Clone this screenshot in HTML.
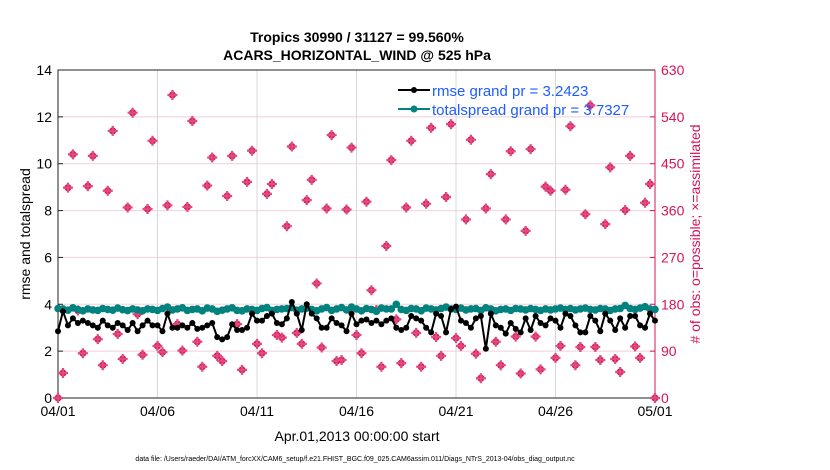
<!DOCTYPE html>
<html><head><meta charset="utf-8"><style>
body{margin:0;background:#fff;}
svg{display:block;font-family:"Liberation Sans",sans-serif;}
</style></head><body>
<svg id="c" width="830" height="470" viewBox="0 0 830 470">
<text x="357" y="42" text-anchor="middle" font-size="14" font-weight="bold">Tropics 30990 / 31127 = 99.560%</text>
<text x="357" y="60" text-anchor="middle" font-size="14" font-weight="bold">ACARS_HORIZONTAL_WIND @ 525 hPa</text>
<g id="grid"></g>
<g id="axes"></g>
<g id="marks"></g>
<text x="30" y="234" transform="rotate(-90 30 234)" text-anchor="middle" font-size="14">rmse and totalspread</text>
<text x="700" y="234" transform="rotate(-90 700 234)" text-anchor="middle" font-size="14" fill="#d4145a"># of obs: o=possible; ×=assimilated</text>
<text x="357" y="441" text-anchor="middle" font-size="14">Apr.01,2013 00:00:00 start</text>
<text x="355" y="461" text-anchor="middle" font-size="7">data file: /Users/raeder/DAI/ATM_forcXX/CAM6_setup/f.e21.FHIST_BGC.f09_025.CAM6assim.011/Diags_NTrS_2013-04/obs_diag_output.nc</text>
<g>
<line x1="398" y1="90" x2="430" y2="90" stroke="#000" stroke-width="2"/><circle cx="414" cy="90" r="3" fill="#000"/>
<text x="432" y="96" font-size="15" fill="#1f5cff">rmse grand pr = 3.2423</text>
<line x1="398" y1="109" x2="430" y2="109" stroke="#00827e" stroke-width="2"/><circle cx="414" cy="109" r="3.5" fill="#00827e"/>
<text x="432" y="115" font-size="15" fill="#1f5cff">totalspread grand pr = 3.7327</text>
</g>
</svg>
<script>
const xTicks=["04/01","04/06","04/11","04/16","04/21","04/26","05/01"];
const yTicks=[0,2,4,6,8,10,12,14];
const y2Ticks=[0,90,180,270,360,450,540,630];
const rmse=[2.85,3.7,3.1,3.4,3.2,3.3,3.2,3.1,3.0,3.3,3.1,3.0,3.2,3.1,2.9,3.2,2.85,3.1,3.3,3.1,3.1,2.85,3.6,3.0,3.0,3.1,3.0,3.2,2.95,3.0,3.1,3.2,2.6,2.5,2.6,3.15,2.9,2.9,3.0,3.6,3.3,3.3,3.5,3.6,3.2,3.15,3.4,4.1,3.6,2.9,4.0,3.6,3.4,3.0,3.0,3.4,3.2,3.1,2.85,3.6,3.15,3.3,3.35,3.2,3.3,3.15,3.3,3.4,3.0,2.9,3.0,3.5,3.4,3.3,3.0,2.8,3.6,3.5,2.8,3.8,3.9,3.3,3.2,3.0,3.4,3.5,2.1,3.6,3.1,3.0,2.75,3.2,2.95,2.8,3.4,2.9,3.5,3.2,3.1,3.4,3.3,3.0,3.6,3.5,3.1,2.8,2.8,3.5,3.3,2.85,3.6,3.3,2.9,3.4,3.0,3.5,3.5,3.1,3.0,3.6,3.3];
const spread=[3.82,3.8,3.75,3.85,3.78,3.72,3.8,3.76,3.74,3.82,3.78,3.75,3.84,3.77,3.73,3.8,3.76,3.72,3.8,3.78,3.74,3.82,3.88,3.76,3.8,3.85,3.74,3.78,3.8,3.72,3.84,3.8,3.7,3.75,3.8,3.85,3.74,3.72,3.8,3.78,3.74,3.82,3.86,3.74,3.78,3.8,3.82,3.86,3.75,3.8,3.84,3.78,3.72,3.8,3.86,3.74,3.8,3.86,3.76,3.88,3.8,3.72,3.82,3.78,3.7,3.84,3.8,3.8,4.0,3.78,3.74,3.82,3.8,3.72,3.84,3.8,3.76,3.82,3.88,3.8,3.78,3.84,3.76,3.8,3.82,3.74,3.85,3.8,3.72,3.78,3.8,3.74,3.82,3.8,3.76,3.82,3.78,3.74,3.8,3.76,3.8,3.84,3.78,3.82,3.76,3.8,3.84,3.78,3.76,3.82,3.8,3.74,3.8,3.82,3.95,3.82,3.78,3.84,3.9,3.8,3.78];
const obsDays=[0,0.25,0.5,0.75,1,1.25,1.5,1.75,2,2.25,2.5,2.75,3,3.25,3.5,3.75,4,4.25,4.5,4.75,5,5.25,5.5,5.75,6,6.25,6.5,6.75,7,7.25,7.5,7.75,8,8.25,8.5,8.75,9,9.25,9.5,9.75,10,10.25,10.5,10.75,11,11.25,11.5,11.75,12,12.25,12.5,12.75,13,13.25,13.5,13.75,14,14.25,14.5,14.75,15,15.25,15.5,15.75,16,16.25,16.5,16.75,17,17.25,17.5,17.75,18,18.25,18.5,18.75,19,19.25,19.5,19.75,20,20.25,20.5,20.75,21,21.25,21.5,21.75,22,22.25,22.5,22.75,23,23.25,23.5,23.75,24,24.25,24.5,24.75,25,25.25,25.5,25.75,26,26.25,26.5,26.75,27,27.25,27.5,27.75,28,28.25,28.5,28.75,29,29.25,29.5,29.75,30];
const obsCount=[0,48,404,468,168,86,407,465,113,63,398,513,123,75,366,548,161,83,363,494,100,88,370,582,142,91,367,532,108,60,408,462,81,71,388,465,142,54,415,475,104,86,392,411,121,116,330,483,125,104,380,419,220,97,364,505,71,73,362,481,121,86,377,207,169,60,292,457,151,67,366,494,125,60,373,519,117,81,386,526,115,100,343,496,85,38,364,430,108,63,343,474,118,47,321,478,118,55,406,398,77,100,400,522,63,98,353,562,98,73,334,443,75,50,361,465,99,77,375,411,0];
const NS="http://www.w3.org/2000/svg";
const L=58,R=655,T=70,B=398,DAYS=30;
const xS=d=>L+(R-L)*d/DAYS, yS=v=>B-(B-T)*v/14, y2S=v=>B-(B-T)*v/630;
function mk(tag,attrs,parent){const e=document.createElementNS(NS,tag);for(const k in attrs)e.setAttribute(k,attrs[k]);parent.appendChild(e);return e;}
const grid=document.getElementById('grid'),axes=document.getElementById('axes'),marks=document.getElementById('marks');
yTicks.forEach((v,i)=>{if(v>0&&v<14){const g=mk('line',{x1:L,x2:R,y1:yS(v),y2:yS(v),stroke:'#f2cfdc','stroke-width':1},grid);}
 const t=mk('text',{x:L-6,y:yS(v)+5,'text-anchor':'end','font-size':14},axes);t.textContent=v;
 
 mk('line',{x1:L,x2:L+5,y1:yS(v),y2:yS(v),stroke:'#222'},axes);});
y2Ticks.forEach(v=>{const t=mk('text',{x:R+6,y:y2S(v)+5,'font-size':14,fill:'#d4145a'},axes);t.textContent=v;
 
 mk('line',{x1:R-5,x2:R,y1:y2S(v),y2:y2S(v),stroke:'#d4145a'},axes);});
xTicks.forEach((s,i)=>{const x=xS(i*5);
 if(i>0&&i<6){const g=mk('line',{x1:x,x2:x,y1:T,y2:B,stroke:'#d8d8d8'},grid);}
 const t=mk('text',{x:x,y:B+18,'text-anchor':'middle','font-size':14},axes);t.textContent=s;
 });
mk('path',{d:`M${R} ${T}H${L}V${B}H${R}`,fill:'none',stroke:'#222','stroke-width':1},axes);
mk('line',{x1:R,x2:R,y1:T,y2:B,stroke:'#d4145a','stroke-width':1},axes);
// obs
obsDays.forEach((d,i)=>{const x=xS(d),y=y2S(obsCount[i]);
 const g=mk('g',{},marks);
 
 mk('circle',{cx:x,cy:y,r:3.6,fill:'#d81b5a'},g);
 mk('path',{d:`M${x-5} ${y}H${x+5}M${x} ${y-5}V${y+5}`,stroke:'#e04a80','stroke-width':2.2},g);});
function series(vals,color,r,name){const n=vals.length;
 const pts=vals.map((v,i)=>[xS(i*DAYS/(n-1)),yS(v)]);
 const pl=mk('polyline',{points:pts.map(p=>p.join(',')).join(' '),fill:'none',stroke:color,'stroke-width':2},marks);
 
 pts.forEach(p=>{const c=mk('circle',{cx:p[0],cy:p[1],r:r,fill:color},marks);
  });}
series(spread,'#00827e',3.8,'totalspread');
series(rmse,'#000',3,'rmse');
</script>
</body></html>
